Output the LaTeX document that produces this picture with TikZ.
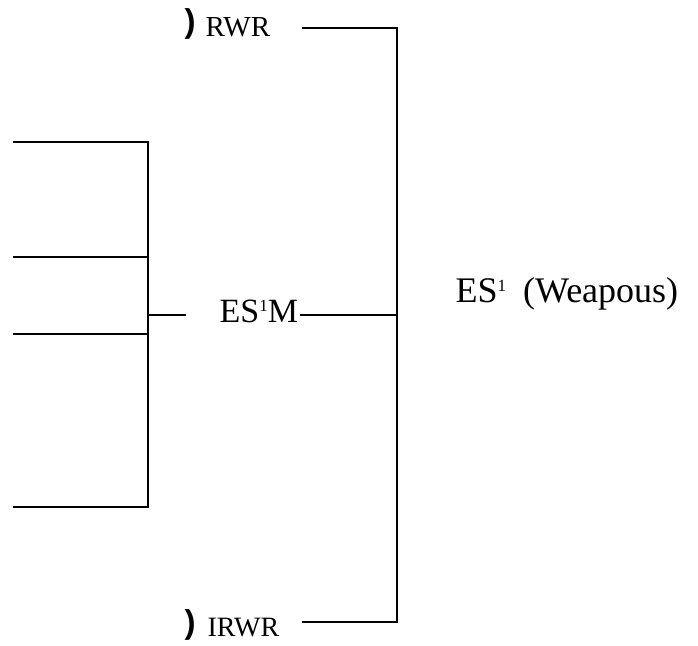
\documentclass[tikz,border=0pt]{standalone}
\usepackage{fontspec}
\setmainfont{Liberation Serif}
\newfontfamily\symfont{Liberation Sans}
\newcommand{\supone}{\raisebox{11pt}{\fontsize{17}{17}\selectfont 1}}
\begin{document}
\begin{tikzpicture}[x=1pt,y=-1pt,line width=1.3pt,
  biglab/.style={inner sep=0pt,anchor=base west,font=\fontsize{34}{40}\selectfont},
  smalllab/.style={inner sep=0pt,anchor=base west,font=\fontsize{29}{34}\selectfont},
  paren/.style={inner sep=0pt,font=\symfont\bfseries\fontsize{33}{36}\selectfont}]
\useasboundingbox (0,0) rectangle (698,645);
% labels
\node[paren] (p1) at (190,24) {)};
\node[smalllab] (rwr) at (205,36) {RWR};
\node[paren] (p2) at (190,625) {)};
\node[smalllab,font=\fontsize{28}{32}\selectfont] (irwr) at (207,636) {IRWR};
\node[biglab] (esm) at (219,322) {ES\supone M};
\node[biglab,font=\fontsize{36}{40}\selectfont] (esw) at (455,302) {ES\supone\hspace{17pt}(Weapous)};
% coordinates
\coordinate (l1) at (13,142); \coordinate (j1) at (148,142);
\coordinate (l2) at (13,257); \coordinate (j2) at (148,257);
\coordinate (l3) at (13,334); \coordinate (j3) at (148,334);
\coordinate (l4) at (13,507); \coordinate (j4) at (148,507);
\coordinate (jm) at (148,315); \coordinate (sm) at (186,315);
\coordinate (em) at (300,315); \coordinate (rm) at (397,315);
\coordinate (rs) at (302,28); \coordinate (rt) at (397,28);
\coordinate (is) at (302,622); \coordinate (rb) at (397,622);
% connectors
\draw (l1) -- (j1) -- (j4) -- (l4);
\draw (l2) -- (j2);
\draw (l3) -- (j3);
\draw (jm) -- (sm);
\draw (em) -- (rm);
\draw (rs) -- (rt) -- (rb) -- (is);
\end{tikzpicture}
\end{document}
